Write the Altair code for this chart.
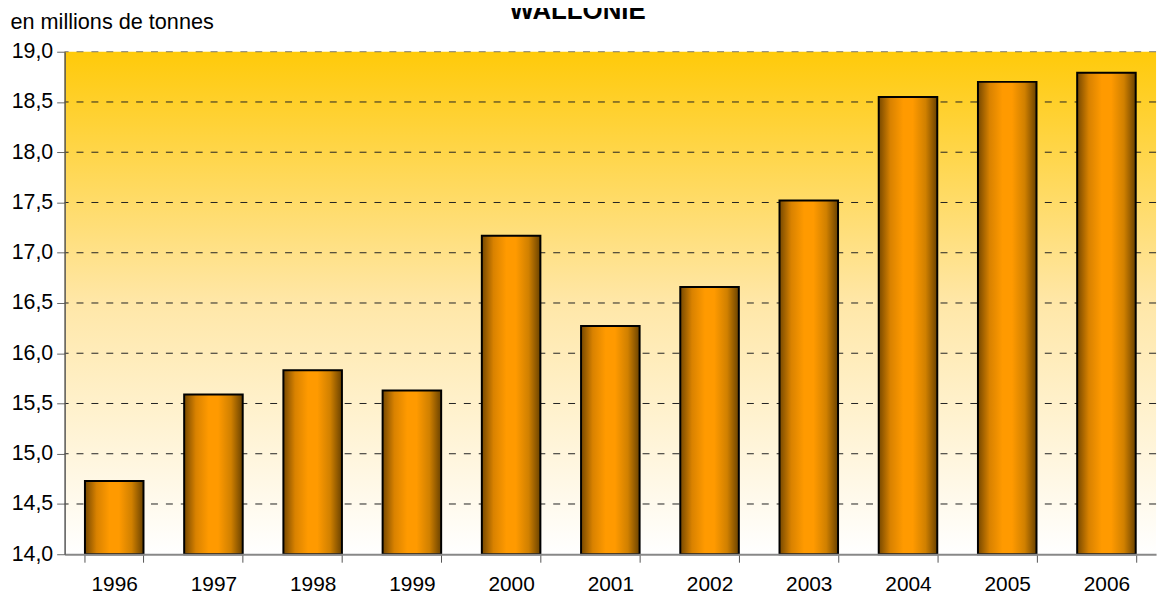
import altair as alt
import pandas as pd

years = ["1996", "1997", "1998", "1999", "2000", "2001", "2002", "2003", "2004", "2005", "2006"]
values = [14.73, 15.59, 15.83, 15.63, 17.17, 16.27, 16.66, 17.52, 18.55, 18.70, 18.79]
y_ticks = [14.0, 14.5, 15.0, 15.5, 16.0, 16.5, 17.0, 17.5, 18.0, 18.5, 19.0]
grid_ticks = [14.5, 15.0, 15.5, 16.0, 16.5, 17.0, 17.5, 18.0, 18.5, 19.0]
y_base = 14.0

W, H = 1099, 506
FONT = "Liberation Sans"

df = pd.DataFrame({"year": years, "value": values, "base": [y_base] * len(years)})
grid_df = pd.DataFrame({"tick": grid_ticks})

yscale = alt.Scale(domain=[14, 19], zero=False, nice=False)
yaxis = alt.Axis(values=y_ticks, grid=False,
                 labelExpr="replace(format(datum.value, '.1f'), '.', ',')",
                 domainColor="#555555", domainWidth=1.5, tickColor="#666666",
                 tickSize=8, labelFont=FONT, labelFontSize=21.5, labelColor="black",
                 labelPadding=4,
                 title="en millions de tonnes", titleAngle=0, titleAlign="left",
                 titleBaseline="alphabetic", titleX=-55, titleY=-23,
                 titleFont=FONT, titleFontSize=21.8, titleFontWeight="normal",
                 titleColor="black", zindex=1)

bg_grad = alt.LinearGradient(
    gradient="linear",
    stops=[alt.GradientStop(color="#FFCA0A", offset=0),
           alt.GradientStop(color="#FFE7A8", offset=0.5),
           alt.GradientStop(color="#FFFFFF", offset=1)],
    x1=0, x2=0, y1=0, y2=1,
)
bar_grad = alt.LinearGradient(
    gradient="linear",
    stops=[alt.GradientStop(color="#764800", offset=0),
           alt.GradientStop(color="#D98200", offset=0.2),
           alt.GradientStop(color="#FF9A00", offset=0.42),
           alt.GradientStop(color="#FF9A00", offset=0.58),
           alt.GradientStop(color="#D08000", offset=0.8),
           alt.GradientStop(color="#6A4200", offset=1)],
    x1=0, x2=1, y1=0, y2=0,
)

bg = alt.Chart(pd.DataFrame({"a": [0]})).mark_rect(color=bg_grad).encode(
    x=alt.value(0), x2=alt.value(W), y=alt.value(0), y2=alt.value(H)
)

rules = alt.Chart(grid_df).mark_rule(strokeDash=[7, 8], strokeWidth=1).encode(
    y=alt.Y("tick:Q", scale=yscale, axis=yaxis),
    color=alt.condition(alt.datum.tick >= 19, alt.value("#777777"), alt.value("#222222")),
)

bars = alt.Chart(df).mark_bar(color=bar_grad, stroke="black", strokeWidth=2).encode(
    x=alt.X("year:N", sort=years,
            scale=alt.Scale(paddingInner=0.41, paddingOuter=0.205),
            axis=alt.Axis(tickBand="extent", labelAngle=0, tickSize=8, title=None,
                          domainColor="#888888", domainWidth=2, tickColor="#555555",
                          labelFont=FONT, labelFontSize=21, labelColor="black",
                          labelPadding=12, zindex=1)),
    y=alt.Y("value:Q", scale=yscale, axis=yaxis),
    y2=alt.Y2("base:Q"),
)

chart = alt.layer(bg, rules, bars).properties(
    width=W, height=H,
    title=alt.Title("WALLONIE", font=FONT, fontSize=26, fontWeight="bold",
                    color="black", anchor="middle", dx=-33, dy=39,
                    baseline="alphabetic", offset=6),
    autosize=alt.AutoSizeParams(type="none"),
    padding={"left": 57, "top": 42, "right": 8, "bottom": 39},
).configure_view(stroke=None)

chart.save("out.html", embed_options={"renderer": "svg", "actions": False})
